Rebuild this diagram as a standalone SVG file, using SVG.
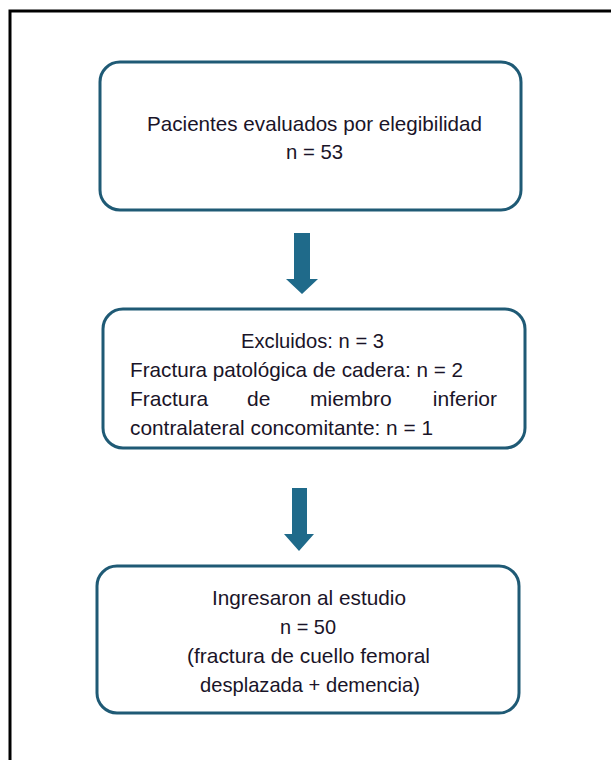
<svg xmlns="http://www.w3.org/2000/svg" width="611" height="760" viewBox="0 0 611 760">
<style>
.box{fill:#ffffff;stroke:#1f5a75;stroke-width:3}
.t{font-family:"Liberation Sans",Arial,sans-serif;font-size:21px;fill:#1a1428}
.arr{fill:#1f6a8a}
</style>
<rect x="0" y="0" width="611" height="760" fill="#ffffff"/>
<rect x="10" y="11" width="620" height="780" fill="none" stroke="#000000" stroke-width="3"/>
<g id="n1">
<rect class="box" x="100" y="62" width="421" height="148" rx="20"/>
<text class="t" x="147" y="131" textLength="335" lengthAdjust="spacingAndGlyphs">Pacientes evaluados por elegibilidad</text>
<text class="t" x="286" y="159" textLength="57" lengthAdjust="spacingAndGlyphs">n = 53</text>
</g>
<g id="n2">
<rect class="box" x="103" y="309" width="422" height="139" rx="20"/>
<text class="t" x="241" y="348" textLength="143" lengthAdjust="spacingAndGlyphs">Excluidos: n = 3</text>
<text class="t" x="130" y="377" textLength="333" lengthAdjust="spacingAndGlyphs">Fractura patológica de cadera: n = 2</text>
<text class="t" x="130" y="406">Fractura</text>
<text class="t" x="247" y="406">de</text>
<text class="t" x="310" y="406">miembro</text>
<text class="t" x="497" y="406" text-anchor="end">inferior</text>
<text class="t" x="130" y="435" textLength="303" lengthAdjust="spacingAndGlyphs">contralateral concomitante: n = 1</text>
</g>
<g id="n3">
<rect class="box" x="97" y="566" width="422" height="147" rx="20"/>
<text class="t" x="212" y="605" textLength="194" lengthAdjust="spacingAndGlyphs">Ingresaron al estudio</text>
<text class="t" x="280" y="634" textLength="56" lengthAdjust="spacingAndGlyphs">n = 50</text>
<text class="t" x="187" y="663" textLength="243" lengthAdjust="spacingAndGlyphs">(fractura de cuello femoral</text>
<text class="t" x="200" y="692" textLength="220" lengthAdjust="spacingAndGlyphs">desplazada + demencia)</text>
</g>
<g id="connectors">
<polygon class="arr" points="294,233 310,233 310,279 318,279 302,294 286,279 294,279"/>
<polygon class="arr" points="292,488 307,488 307,534 314,534 299,551 284,534 292,534"/>
</g>
</svg>
